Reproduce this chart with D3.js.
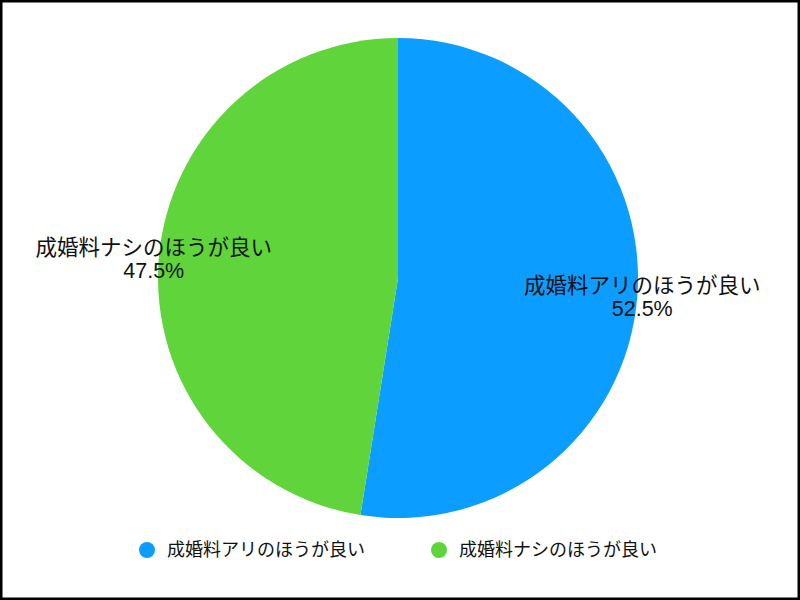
<!DOCTYPE html>
<html>
<head>
<meta charset="utf-8">
<script src="https://cdn.jsdelivr.net/npm/d3@7"></script>
<style>
  body { margin: 0; background: #fff; }
  svg { display: block; }
  text { font-family: "Liberation Sans", "Noto Sans CJK JP", sans-serif; fill: #111; }
</style>
</head>
<body>
<svg id="chart"></svg>
<script>
const categories = ["成婚料アリのほうが良い", "成婚料ナシのほうが良い"];
const values = [52.5, 47.5];
const colors = ["#0b9dff", "#5fd43b"];

const width = 800;
const height = 600;
const cx = 398;
const cy = 278;
const radius = 240;

const svg = d3.select("#chart").attr("width", width).attr("height", height);

// frame
svg.append("rect")
  .attr("x", 1.25).attr("y", 1.25)
  .attr("width", width - 2.5).attr("height", height - 2.5)
  .attr("fill", "#fff")
  .attr("stroke", "#000")
  .attr("stroke-width", 2.5);

const data = categories.map((c, i) => ({ label: c, value: values[i], color: colors[i] }));

const pie = d3.pie().sort(null).value((d) => d.value);
const arc = d3.arc().innerRadius(0).outerRadius(radius);
const labelArc = d3.arc().innerRadius(245).outerRadius(245);

const g = svg.append("g").attr("transform", `translate(${cx}, ${cy})`);
const arcs = pie(data);

g.selectAll("path")
  .data(arcs)
  .join("path")
  .attr("d", arc)
  .attr("fill", (d) => d.data.color);

const labels = g.selectAll("text.slice-label")
  .data(arcs)
  .join("text")
  .attr("class", "slice-label")
  .attr("text-anchor", "middle")
  .attr("font-size", 21.5)
  .attr("transform", (d) => `translate(${labelArc.centroid(d)})`);

labels.append("tspan")
  .attr("x", 0).attr("y", -11.5).attr("dy", "0.36em")
  .text((d) => d.data.label);
labels.append("tspan")
  .attr("x", 0).attr("y", 11.5).attr("dy", "0.36em")
  .text((d) => d3.format(".1f")(d.data.value) + "%");

// legend
const legendX = d3.scalePoint().domain(categories).range([147, 439]);
const legend = svg.append("g")
  .selectAll("g")
  .data(data)
  .join("g")
  .attr("transform", (d) => `translate(${legendX(d.label)}, 550)`);

legend.append("circle").attr("r", 8).attr("fill", (d) => d.color);
legend.append("text")
  .attr("x", 20)
  .attr("dy", "0.36em")
  .attr("font-size", 18)
  .text((d) => d.label);
</script>
</body>
</html>
